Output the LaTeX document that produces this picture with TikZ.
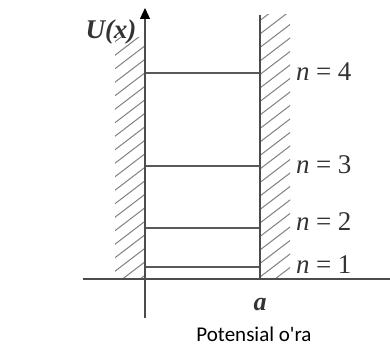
\documentclass[tikz,border=0pt]{standalone}
\usepackage{fontspec}
\usetikzlibrary{arrows.meta}
\setmainfont{Liberation Serif}
\newfontfamily\capfont{Carlito}
\newcommand{\lvl}[1]{\textit{n}\hspace{0.24em}=\hspace{0.24em}#1}
\begin{document}
\begin{tikzpicture}[x=1pt,y=-1pt,
  axisline/.style={line width=1.2pt,draw=black!70},
  wallline/.style={line width=2.4pt,draw=black!70},
  levelline/.style={line width=1.4pt,draw=black!65},
  hatchline/.style={line width=1pt,draw=black!50},
  lab/.style={font=\fontsize{27}{30}\selectfont,text=black!80,inner sep=0pt},
  captext/.style={font=\capfont\fontsize{21}{24}\selectfont,inner sep=0pt}]
\useasboundingbox (0,0) rectangle (390,347);
% hatching left
\begin{scope}
\clip (115,38) rectangle (144,278);
\foreach \k in {0,...,20} {
  \draw[hatchline] (112,44+13.5*\k) -- (146,18+13.5*\k);
}
\end{scope}
% hatching right
\begin{scope}
\clip (261,15) rectangle (290,278);
\foreach \k in {0,...,22} {
  \draw[hatchline] (258,22+13.5*\k) -- (292,-4+13.5*\k);
}
\end{scope}
% axes
\coordinate (ybot) at (145,318);
\coordinate (ytop) at (145,8);
\coordinate (xl) at (83,279);
\coordinate (xr) at (390,279);
\draw[axisline] (xl) -- (xr);
\draw[axisline,-{Triangle[length=11pt,width=10pt,color=black]}] (ybot) -- (ytop);
% right wall
\coordinate (wt) at (260,15);
\coordinate (wb) at (260,280);
\draw[wallline] (wt) -- (wb);
% levels
\foreach \y/\n in {73/4,166/3,228/2,267/1} {
  \coordinate (l\n) at (146,\y);
  \coordinate (r\n) at (259,\y);
  \draw[levelline] (l\n) -- (r\n);
}
% labels
\node[lab,anchor=west] (n4) at (296,72) {\lvl{4}};
\node[lab,anchor=west] (n3) at (296,165) {\lvl{3}};
\node[lab,anchor=west] (n2) at (296,222) {\lvl{2}};
\node[lab,anchor=west] (n1) at (296,265) {\lvl{1}};
\node[lab,font=\fontsize{27}{30}\selectfont\bfseries\itshape] (U) at (111,32) {U(x)};
\node[lab,font=\fontsize{26}{30}\selectfont\bfseries\itshape] (a) at (260,305) {a};
\node[captext] (caption) at (254,334) {Potensial o'ra};
\end{tikzpicture}
\end{document}
